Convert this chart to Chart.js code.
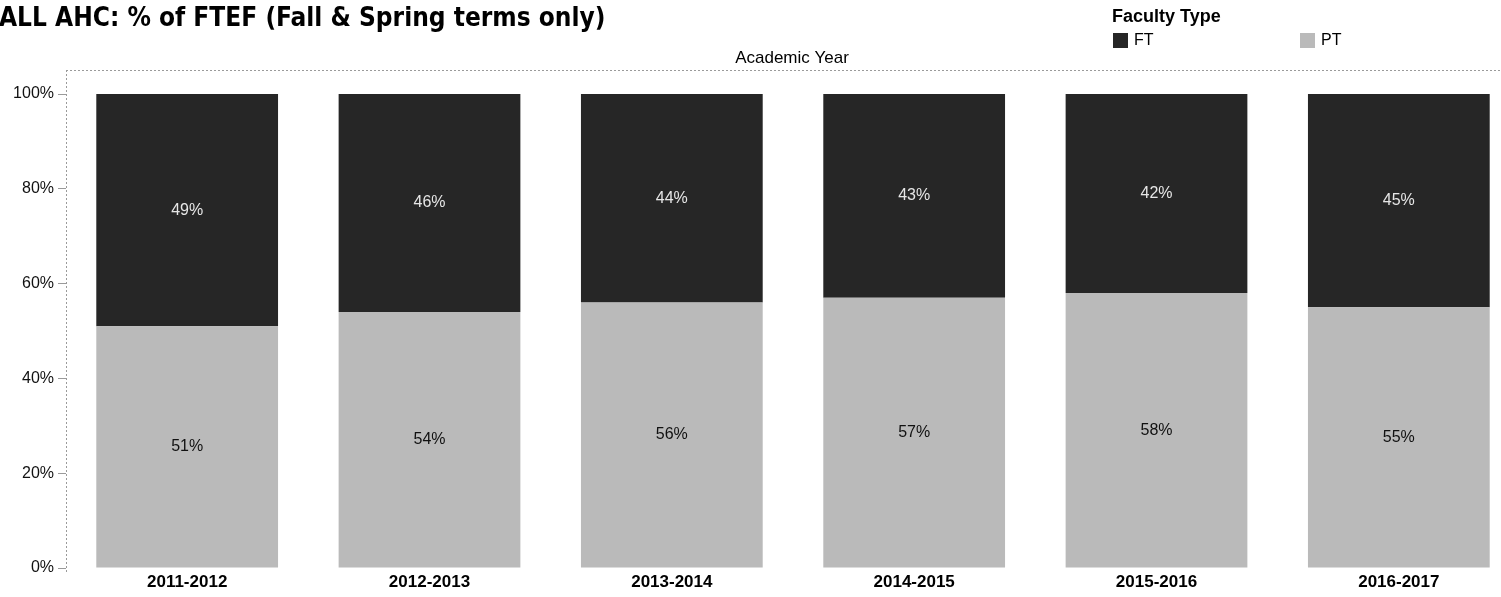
<!DOCTYPE html>
<html>
<head>
<meta charset="utf-8">
<title>ALL AHC: % of FTEF</title>
<script src="https://cdn.jsdelivr.net/npm/chart.js@4.4.1/dist/chart.umd.min.js"></script>
<style>
  html, body { margin: 0; padding: 0; background: #fff; overflow: hidden; }
  #wrap { width: 1530px; height: 597px; }
</style>
</head>
<body>
<div id="wrap"><canvas id="ftef" width="1530" height="597"></canvas></div>
<script>
const years = ['2011-2012', '2012-2013', '2013-2014', '2014-2015', '2015-2016', '2016-2017'];
const ftShare = [49, 46, 44, 43, 42, 45];
const ptShare = [51, 54, 56, 57, 58, 55];
const yTicks = [0, 20, 40, 60, 80, 100];

const FT_COLOR = '#262626';
const PT_COLOR = '#bababa';

// heading, legend, axis caption and the dotted pane frame
const decorations = {
    id: 'decorations',
    beforeDraw(chart) {
        const ctx = chart.ctx;
        const area = chart.chartArea;
        ctx.save();
        ctx.strokeStyle = '#9a9a9a';
        ctx.lineWidth = 1;
        ctx.setLineDash([2, 2]);
        ctx.beginPath();
        ctx.moveTo(area.left, 70.5);
        ctx.lineTo(chart.width, 70.5);
        ctx.moveTo(area.left + 0.5, 70);
        ctx.lineTo(area.left + 0.5, area.bottom + 4);
        ctx.stroke();
        ctx.restore();
    },
    afterDraw(chart) {
        const ctx = chart.ctx;
        ctx.save();
        ctx.fillStyle = '#000';
        ctx.textBaseline = 'middle';
        ctx.textAlign = 'left';
        ctx.font = 'bold 26px "DejaVu Sans Condensed", "DejaVu Sans"';
        ctx.fillText('ALL AHC: % of FTEF (Fall & Spring terms only)', -1, 19);

        ctx.font = 'bold 18px "Liberation Sans", Arial';
        ctx.fillText('Faculty Type', 1112, 17);
        ctx.font = '16px "Liberation Sans", Arial';
        const items = [
            { label: 'FT', color: FT_COLOR, x: 1113 },
            { label: 'PT', color: PT_COLOR, x: 1300 }
        ];
        items.forEach(it => {
            ctx.fillStyle = it.color;
            ctx.fillRect(it.x, 33, 15, 15);
            ctx.fillStyle = '#000';
            ctx.fillText(it.label, it.x + 21, 41);
        });

        ctx.textAlign = 'center';
        ctx.font = '17px "Liberation Sans", Arial';
        ctx.fillText('Academic Year', 792, 58);
        ctx.restore();
    }
};

// percent labels centred in each stacked segment
const segmentLabels = {
    id: 'segmentLabels',
    afterDatasetsDraw(chart) {
        const ctx = chart.ctx;
        ctx.save();
        ctx.font = '16px "Liberation Sans", Arial';
        ctx.textAlign = 'center';
        ctx.textBaseline = 'middle';
        chart.data.datasets.forEach((ds, di) => {
            const meta = chart.getDatasetMeta(di);
            meta.data.forEach((bar, i) => {
                const mid = (bar.y + bar.base) / 2;
                ctx.fillStyle = ds.label === 'FT' ? '#e6e6e6' : '#111';
                ctx.fillText(ds.data[i] + '%', bar.x, mid);
            });
        });
        ctx.restore();
    }
};

new Chart(document.getElementById('ftef').getContext('2d'), {
    type: 'bar',
    data: {
        labels: years,
        datasets: [
            { label: 'PT', data: ptShare, backgroundColor: PT_COLOR, categoryPercentage: 0.75, barPercentage: 1 },
            { label: 'FT', data: ftShare, backgroundColor: FT_COLOR, categoryPercentage: 0.75, barPercentage: 1 }
        ]
    },
    options: {
        responsive: false,
        animation: false,
        devicePixelRatio: 1,
        layout: { padding: { top: 94, right: 10, left: 0, bottom: 0 } },
        plugins: {
            legend: { display: false },
            tooltip: { enabled: false }
        },
        scales: {
            x: {
                stacked: true,
                grid: { display: false, drawTicks: false },
                border: { display: false },
                ticks: {
                    color: '#000',
                    padding: 4,
                    font: { family: '"Liberation Sans", Arial', size: 17, weight: 'bold' }
                },
                afterFit: scale => { scale.height = 29; }
            },
            y: {
                stacked: true,
                min: 0,
                max: 100,
                afterBuildTicks: scale => { scale.ticks = yTicks.map(v => ({ value: v })); },
                grid: { drawOnChartArea: false, drawTicks: true, tickLength: 8, color: '#9a9a9a' },
                border: { display: false },
                ticks: {
                    color: '#111',
                    padding: 4,
                    font: { family: '"Liberation Sans", Arial', size: 16 },
                    callback: v => v + '%'
                },
                afterFit: scale => { scale.width = 66; }
            }
        }
    },
    plugins: [decorations, segmentLabels]
});
</script>
</body>
</html>
